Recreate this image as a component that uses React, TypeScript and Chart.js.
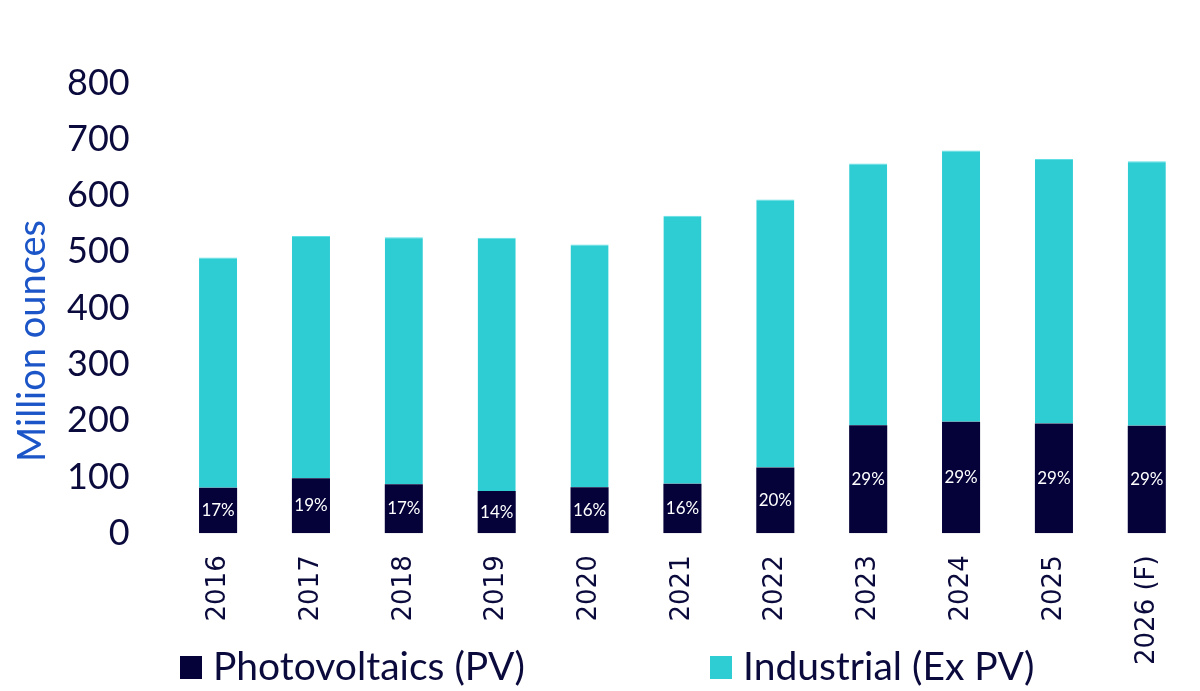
import { useEffect, useRef } from 'react'
import { Chart, ChartConfiguration, Plugin, registerables } from 'chart.js'

Chart.register(...registerables)

// silver industrial demand, million ounces
const years = ['2016', '2017', '2018', '2019', '2020', '2021', '2022', '2023', '2024', '2025', '2026 (F)']
const pvValues = [81, 98, 87, 75, 82, 88, 117, 192, 198, 195, 191]
const industrialExPv = [409, 430, 439, 450, 431, 476, 476, 465, 482, 470, 470]
const pvShareLabels = ['17%', '19%', '17%', '14%', '16%', '16%', '20%', '29%', '29%', '29%', '29%']
const yTicks = [0, 100, 200, 300, 400, 500, 600, 700, 800]

const NAVY = '#05023a'
const CYAN = '#2ecdd3'
const TEXT = '#0b0a3c'
const BLUE = '#1b55c8'

// white share labels inside the PV segments
const shareLabels: Plugin<'bar'> = {
  id: 'shareLabels',
  afterDatasetsDraw(chart) {
    const ctx = chart.ctx
    const meta = chart.getDatasetMeta(0)
    ctx.save()
    ctx.fillStyle = '#ffffff'
    ctx.font = '17px Lato'
    ctx.textAlign = 'center'
    ctx.textBaseline = 'middle'
    meta.data.forEach((bar: any, i) => {
      const { x, y, base } = bar.getProps(['x', 'y', 'base'], true)
      ctx.fillText(pvShareLabels[i], x, (y + base) / 2)
    })
    ctx.restore()
  },
}

// y title centred on the whole canvas + custom spaced legend
const extras: Plugin<'bar'> = {
  id: 'extras',
  afterDraw(chart) {
    const ctx = chart.ctx
    ctx.save()
    ctx.translate(33, 341)
    ctx.rotate(-Math.PI / 2)
    ctx.fillStyle = BLUE
    ctx.font = '38px Lato'
    ctx.textAlign = 'center'
    ctx.textBaseline = 'middle'
    ctx.fillText('Million ounces', 0, 0)
    ctx.restore()

    const items = [
      { x: 180, color: NAVY, text: chart.data.datasets[0].label as string },
      { x: 710, color: CYAN, text: chart.data.datasets[1].label as string },
    ]
    ctx.save()
    ctx.font = '39px Lato'
    ctx.textBaseline = 'middle'
    items.forEach(it => {
      ctx.fillStyle = it.color
      ctx.fillRect(it.x, 656, 22, 23)
      ctx.fillStyle = TEXT
      ctx.fillText(it.text, it.x + 33, 667)
    })
    ctx.restore()
  },
}

export default function App() {
  const canvasRef = useRef<HTMLCanvasElement>(null)
  const chartRef = useRef<Chart | null>(null)

  useEffect(() => {
    document.body.style.margin = '0'
    if (!canvasRef.current) return
    const ctx = canvasRef.current.getContext('2d')
    if (!ctx) return

    chartRef.current?.destroy()

    const config: ChartConfiguration<'bar'> = {
      type: 'bar',
      data: {
        labels: years,
        datasets: [
          {
            label: 'Photovoltaics (PV)',
            data: pvValues,
            backgroundColor: NAVY,
            categoryPercentage: 1,
            barPercentage: 0.41,
          },
          {
            label: 'Industrial (Ex PV)',
            data: industrialExPv,
            backgroundColor: CYAN,
            borderColor: '#5fe0e4',
            borderWidth: { top: 1, left: 0, right: 0, bottom: 0 },
            categoryPercentage: 1,
            barPercentage: 0.41,
          },
        ],
      },
      options: {
        animation: false,
        responsive: true,
        maintainAspectRatio: false,
        layout: { padding: { left: 25, top: 83, right: -7, bottom: 4 } },
        plugins: {
          legend: { display: false },
          tooltip: { enabled: false },
        },
        scales: {
          x: {
            stacked: true,
            grid: { display: false, drawTicks: false },
            border: { display: false },
            ticks: {
              color: TEXT,
              font: { family: 'DejaVu Sans', size: 26 },
              minRotation: 90,
              maxRotation: 90,
              padding: 22,
              autoSkip: false,
            },
          },
          y: {
            stacked: true,
            min: 0,
            max: 800,
            grid: { display: false, drawTicks: false },
            border: { display: false },
            afterBuildTicks: axis => {
              axis.ticks = yTicks.map(v => ({ value: v }))
            },
            ticks: {
              color: TEXT,
              font: { family: 'Lato', size: 36 },
              padding: 42,
            },
          },
        },
      },
      plugins: [shareLabels, extras],
    }

    chartRef.current = new Chart(ctx, config)

    return () => {
      chartRef.current?.destroy()
      chartRef.current = null
    }
  }, [])

  return (
    <div style={{ width: 1200, height: 691, position: 'relative' }}>
      <canvas ref={canvasRef} />
    </div>
  )
}
